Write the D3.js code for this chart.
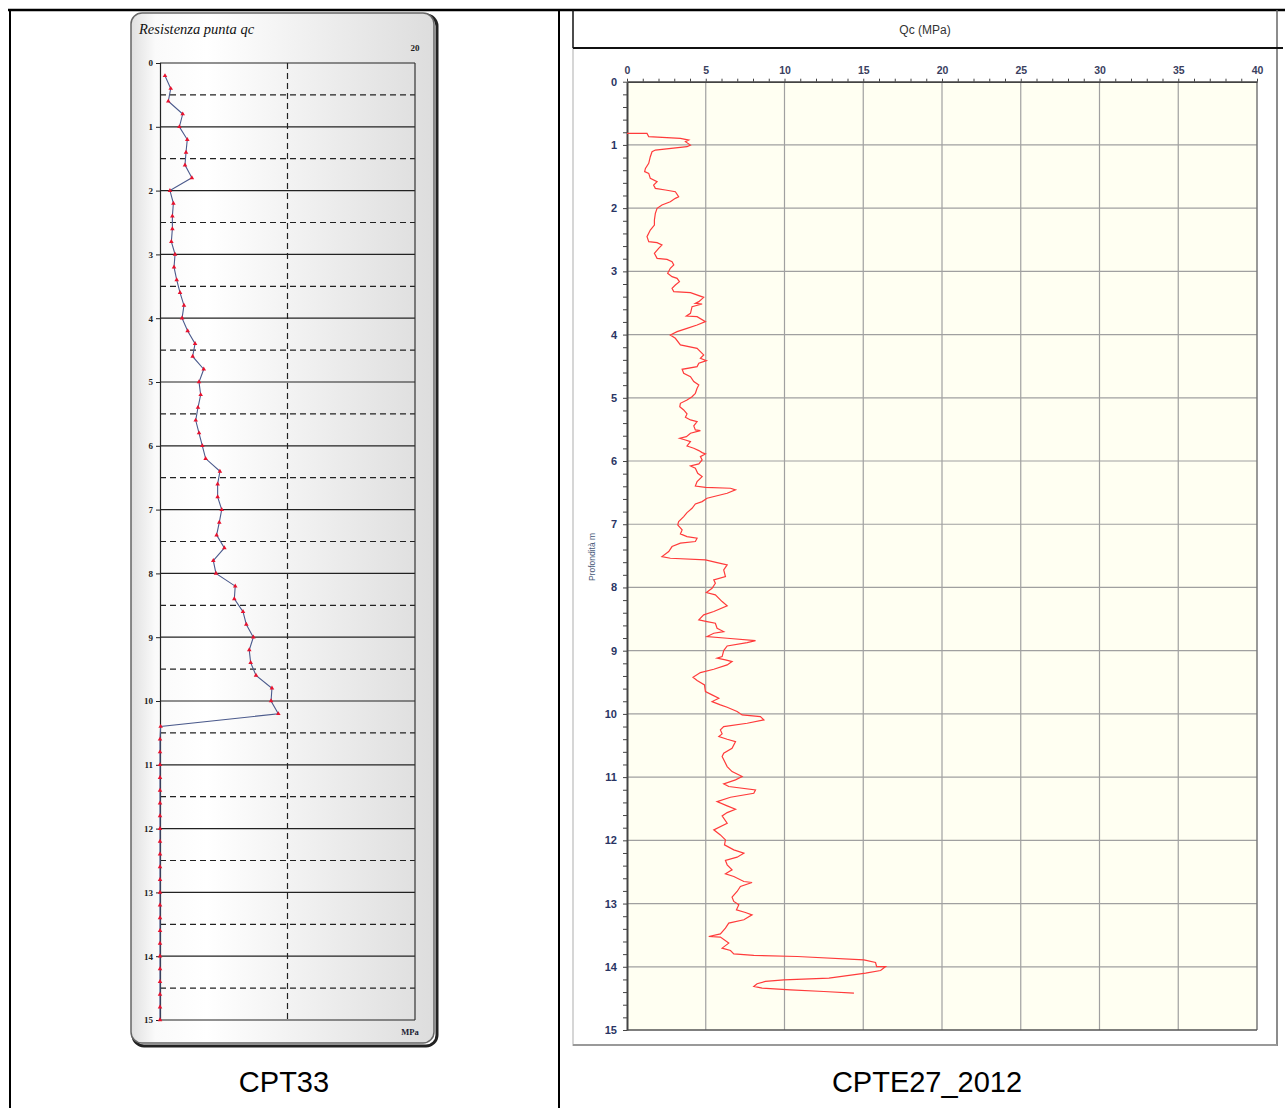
<!DOCTYPE html>
<html><head><meta charset="utf-8">
<script src="https://cdn.jsdelivr.net/npm/d3@7/dist/d3.min.js"></script>
<style>body{margin:0;background:#fff}svg{display:block}</style>
</head><body>
<svg id="c" width="1285" height="1108"></svg>
<script>
// ---------------- DATA ----------------
const cpt33Title = "Resistenza punta  qc";
const cpt33Caption = "CPT33";
const cpt33DepthTicks = [0,1,2,3,4,5,6,7,8,9,10,11,12,13,14,15];
const cpt33Depth = [0.2,0.4,0.6,0.8,1.0,1.2,1.4,1.6,1.8,2.0,2.2,2.4,2.6,2.8,3.0,3.2,3.4,3.6,3.8,4.0,
  4.2,4.4,4.6,4.8,5.0,5.2,5.4,5.6,5.8,6.0,6.2,6.4,6.6,6.8,7.0,7.2,7.4,7.6,7.8,8.0,
  8.2,8.4,8.6,8.8,9.0,9.2,9.4,9.6,9.8,10.0,10.2,10.4,10.6,10.8,11.0,11.2,11.4,11.6,11.8,12.0,
  12.2,12.4,12.6,12.8,13.0,13.2,13.4,13.6,13.8,14.0,14.2,14.4,14.6,14.8,15.0];
const cpt33Qc = [0.39,0.84,0.65,1.78,1.52,2.14,2.04,1.96,2.5,0.78,1.05,0.97,0.97,0.89,1.18,1.10,1.31,1.57,1.88,1.73,
  2.17,2.75,2.56,3.43,3.06,3.19,2.98,2.8,3.06,3.32,3.58,4.7,4.52,4.52,4.84,4.65,4.44,5.05,4.18,4.39,
  5.9,5.83,6.51,6.77,7.32,7.0,7.11,7.53,8.78,8.71,9.28,0.05,0,0,0,0,0,0,0,0,
  0,0,0,0,0,0,0,0,0,0,0,0,0,0,0];

const cpteTitle = "Qc (MPa)";
const cpteCaption = "CPTE27_2012";
const cpteYLabel = "Profondità m";
const cpteQcTicks = [0,5,10,15,20,25,30,35,40];
const cpteDepthTicks = [0,1,2,3,4,5,6,7,8,9,10,11,12,13,14,15];
const cpteDepth = [0.817,0.817,0.870,0.896,0.923,0.949,1.002,1.028,1.081,1.107,1.186,1.292,1.371,1.423,1.450,1.529,1.581,1.634,1.687,1.713,
  1.740,1.819,1.845,1.898,1.950,2.003,2.082,2.188,2.267,2.346,2.451,2.530,2.546,2.583,2.636,2.715,2.794,2.810,2.847,2.899,
  2.952,3.031,3.084,3.110,3.163,3.216,3.268,3.321,3.337,3.411,3.479,3.506,3.516,3.558,3.664,3.706,3.716,3.795,3.848,3.901,
  3.954,4.006,4.059,4.164,4.217,4.322,4.375,4.412,4.454,4.507,4.549,4.612,4.665,4.744,4.797,4.850,4.929,4.982,5.034,5.087,
  5.140,5.192,5.255,5.308,5.350,5.377,5.445,5.508,5.519,5.561,5.614,5.640,5.667,5.693,5.762,5.798,5.835,5.867,5.888,5.930,
  5.983,6.046,6.078,6.115,6.194,6.247,6.326,6.395,6.416,6.431,6.457,6.510,6.589,6.642,6.679,6.748,6.816,6.879,6.958,7.011,
  7.090,7.153,7.195,7.222,7.274,7.300,7.353,7.432,7.512,7.538,7.564,7.606,7.643,7.722,7.828,7.880,7.933,8.012,8.080,8.117,
  8.223,8.291,8.381,8.434,8.513,8.540,8.566,8.645,8.698,8.724,8.777,8.803,8.840,8.872,8.925,8.999,9.093,9.119,9.146,9.172,
  9.225,9.294,9.346,9.420,9.472,9.541,9.646,9.699,9.752,9.805,9.857,9.894,9.963,10.016,10.042,10.095,10.148,10.200,10.253,10.316,
  10.358,10.401,10.438,10.543,10.622,10.675,10.833,10.912,10.991,11.044,11.107,11.149,11.202,11.255,11.318,11.388,11.455,11.508,11.561,11.614,
  11.730,11.834,11.914,11.993,12.072,12.151,12.203,12.266,12.319,12.387,12.466,12.530,12.572,12.651,12.667,12.730,12.809,12.899,12.967,13.020,
  13.099,13.142,13.178,13.257,13.310,13.389,13.479,13.521,13.531,13.626,13.705,13.742,13.795,13.821,13.837,13.890,13.932,13.996,13.996,14.059,
  14.101,14.180,14.206,14.232,14.269,14.311,14.338,14.364,14.391,14.417];
const cpteQc = [0,1.27,1.38,3.39,3.92,3.71,4.03,3.81,1.80,1.59,1.48,1.38,1.17,1.12,1.38,1.48,1.91,1.69,1.80,2.44,
  3.07,3.28,3.07,2.75,2.22,1.91,1.80,1.74,1.74,1.48,1.27,1.38,1.91,2.22,2.01,1.74,1.91,2.54,2.86,2.97,
  2.75,2.58,2.86,3.18,3.33,3.07,2.86,2.97,4.03,4.87,4.56,4.34,4.77,4.13,4.03,3.77,4.45,4.98,4.45,3.81,
  3.18,2.75,3.07,3.39,4.45,4.87,4.66,5.04,4.56,4.45,3.50,3.60,4.03,4.24,4.56,4.45,4.34,4.13,3.81,3.39,
  3.35,3.60,3.81,3.71,4.03,4.45,4.24,4.34,4.66,4.03,3.77,3.35,3.71,4.03,3.81,4.24,4.56,4.77,4.98,4.66,
  4.77,4.56,4.03,4.34,4.49,4.77,4.45,4.34,4.98,6.57,6.89,6.36,5.08,4.77,4.34,4.13,3.81,3.60,3.28,3.22,
  3.50,3.39,3.81,4.45,4.34,3.39,2.86,2.65,2.22,2.75,4.98,5.72,6.36,6.14,6.25,5.51,5.61,5.40,5.04,5.61,
  6.04,6.36,5.51,4.87,4.56,5.08,5.61,5.72,6.14,5.51,5.08,6.36,8.16,7.63,6.36,6.14,6.04,5.72,6.25,6.67,
  6.36,5.51,4.66,4.19,4.45,4.92,4.98,5.40,5.83,5.40,5.93,6.36,6.99,7.31,8.47,8.69,7.63,6.14,5.93,6.04,
  5.83,6.36,6.89,6.67,6.14,6.04,6.36,6.67,7.31,6.89,6.14,6.46,8.16,8.05,6.57,5.72,6.36,6.89,6.36,6.04,
  6.36,5.51,5.93,6.25,6.19,6.78,7.42,6.99,6.25,6.36,6.67,6.25,6.78,7.42,7.94,7.20,6.99,6.67,6.78,7.10,
  6.95,7.52,7.94,7.42,6.46,6.25,5.93,5.19,5.93,6.46,6.04,6.57,6.78,8.05,10.81,15.04,15.78,15.85,16.42,16.10,
  15.15,12.82,9.96,8.79,8.26,8.05,8.58,10.38,12.50,14.41];

// ---------------- DRAW ----------------
const svg = d3.select("#c");
const defs = svg.append("defs");
const grad = defs.append("linearGradient").attr("id","pg").attr("x1","0%").attr("x2","100%").attr("y1","0%").attr("y2","0%");
grad.append("stop").attr("offset","0%").attr("stop-color","#e0e0e0");
grad.append("stop").attr("offset","8%").attr("stop-color","#fafafa");
grad.append("stop").attr("offset","25%").attr("stop-color","#ffffff");
grad.append("stop").attr("offset","100%").attr("stop-color","#dddddd");

// table frame
const frame = svg.append("g");
frame.append("line").attr("x1",8).attr("x2",1285).attr("y1",10).attr("y2",10).attr("stroke","#000").attr("stroke-width",2.5);
frame.append("line").attr("x1",10).attr("x2",10).attr("y1",9).attr("y2",1108).attr("stroke","#000").attr("stroke-width",2);
frame.append("line").attr("x1",559).attr("x2",559).attr("y1",9).attr("y2",1108).attr("stroke","#000").attr("stroke-width",2);

// ---------- LEFT: CPT33 ----------
const L = svg.append("g");
L.append("rect").attr("x",133).attr("y",15).attr("width",304).attr("height",1031).attr("rx",11)
  .attr("fill","none").attr("stroke","#222").attr("stroke-width",3);
L.append("rect").attr("x",131).attr("y",13).attr("width",303).attr("height",1030).attr("rx",11)
  .attr("fill","url(#pg)").attr("stroke","#666").attr("stroke-width",1.5);

const xL = d3.scaleLinear().domain([0,20]).range([160,415]);
const yL = d3.scaleLinear().domain([0,15]).range([63,1020]);

L.append("text").attr("x",139).attr("y",34).text(cpt33Title)
  .attr("font-family","'Liberation Serif','DejaVu Serif',serif").attr("font-style","italic")
  .attr("font-size",14.5).attr("fill","#111");

const halfTicks = cpt33DepthTicks.slice(0,-1).map(d=>d+0.5);
L.append("g").selectAll("line.s").data(cpt33DepthTicks.slice(1)).join("line")
  .attr("x1",xL(0)).attr("x2",xL(20)).attr("y1",d=>yL(d)).attr("y2",d=>yL(d))
  .attr("stroke","#222").attr("stroke-width",1.2);
L.append("g").selectAll("line.d").data(halfTicks).join("line")
  .attr("x1",xL(0)).attr("x2",xL(20)).attr("y1",d=>yL(d)).attr("y2",d=>yL(d))
  .attr("stroke","#222").attr("stroke-width",1.2).attr("stroke-dasharray","6,4");
L.append("line").attr("x1",xL(10)).attr("x2",xL(10)).attr("y1",yL(0)).attr("y2",yL(15))
  .attr("stroke","#222").attr("stroke-width",1.2).attr("stroke-dasharray","6,4");
L.append("line").attr("x1",xL(0)).attr("x2",xL(20)).attr("y1",yL(0)).attr("y2",yL(0)).attr("stroke","#222").attr("stroke-width",1.2);
L.append("line").attr("x1",xL(20)).attr("x2",xL(20)).attr("y1",yL(0)).attr("y2",yL(15)).attr("stroke","#333").attr("stroke-width",1.2);

const axL = L.append("g").attr("transform",`translate(${xL(0)},0)`)
  .call(d3.axisLeft(yL).tickValues(cpt33DepthTicks).tickSize(4).tickPadding(3).tickFormat(d3.format("d")));
axL.select(".domain").attr("stroke","#222").attr("stroke-width",1.2);
axL.selectAll(".tick line").attr("stroke","#222");
axL.selectAll("text").attr("font-family","'Liberation Serif','DejaVu Serif',serif").attr("font-weight","bold")
  .attr("font-size",9).attr("fill","#222");

L.append("text").attr("x",xL(20)).attr("y",51).attr("text-anchor","middle").text("20")
  .attr("font-family","'Liberation Serif',serif").attr("font-weight","bold").attr("font-size",9).attr("fill","#222");
L.append("text").attr("x",xL(20)-5).attr("y",1035).attr("text-anchor","middle").text("MPa")
  .attr("font-family","'Liberation Serif',serif").attr("font-weight","bold").attr("font-size",8.5).attr("fill","#223");

const ptsL = cpt33Depth.map((d,i)=>[cpt33Qc[i],d]);
L.append("path").datum(ptsL)
  .attr("d",d3.line().x(p=>xL(p[0])).y(p=>yL(p[1])))
  .attr("fill","none").attr("stroke","#4b5a8c").attr("stroke-width",1.1);
L.append("g").selectAll("path").data(ptsL).join("path")
  .attr("d",d3.symbol().type(d3.symbolTriangle).size(9))
  .attr("transform",p=>`translate(${xL(p[0])},${yL(p[1])})`)
  .attr("fill","#e8112d");

svg.append("text").attr("x",284).attr("y",1092).attr("text-anchor","middle").text(cpt33Caption)
  .attr("font-family","'Liberation Sans',Arial,sans-serif").attr("font-size",29).attr("fill","#000");

// ---------- RIGHT: CPTE27 ----------
const R = svg.append("g");
const xR = d3.scaleLinear().domain([0,40]).range([627,1257]);
const yR = d3.scaleLinear().domain([0,15]).range([81.7,1030]);

R.append("line").attr("x1",573).attr("x2",573).attr("y1",10).attr("y2",48).attr("stroke","#111").attr("stroke-width",1.5);
R.append("line").attr("x1",573).attr("x2",573).attr("y1",48).attr("y2",1046).attr("stroke","#bbb").attr("stroke-width",1.2);
R.append("line").attr("x1",1277).attr("x2",1277).attr("y1",10).attr("y2",1046).attr("stroke","#666").attr("stroke-width",1.5);
R.append("line").attr("x1",573).attr("x2",1283).attr("y1",48).attr("y2",48).attr("stroke","#111").attr("stroke-width",2);
R.append("line").attr("x1",573).attr("x2",1277).attr("y1",1045).attr("y2",1045).attr("stroke","#999").attr("stroke-width",2);
R.append("text").attr("x",925).attr("y",34).attr("text-anchor","middle").text(cpteTitle)
  .attr("font-family","'Liberation Sans',Arial,sans-serif").attr("font-size",12).attr("fill","#333");

R.append("rect").attr("x",xR(0)).attr("y",yR(0)).attr("width",xR(40)-xR(0)).attr("height",yR(15)-yR(0))
  .attr("fill","#fffff2");
R.append("g").selectAll("line").data(cpteQcTicks.slice(1,-1)).join("line")
  .attr("x1",d=>xR(d)).attr("x2",d=>xR(d)).attr("y1",yR(0)).attr("y2",yR(15))
  .attr("stroke","#a0a0a0").attr("stroke-width",1.2);
R.append("g").selectAll("line").data(cpteDepthTicks.slice(1,-1)).join("line")
  .attr("x1",xR(0)).attr("x2",xR(40)).attr("y1",d=>yR(d)).attr("y2",d=>yR(d))
  .attr("stroke","#a0a0a0").attr("stroke-width",1.2);
R.append("line").attr("x1",xR(40)).attr("x2",xR(40)).attr("y1",yR(0)).attr("y2",yR(15)).attr("stroke","#777").attr("stroke-width",1.5);
R.append("line").attr("x1",xR(0)).attr("x2",xR(40)).attr("y1",yR(15)).attr("y2",yR(15)).attr("stroke","#555").attr("stroke-width",1.5);

const axTopMinor = R.append("g").attr("transform",`translate(0,${yR(0)})`)
  .call(d3.axisTop(xR).ticks(40).tickSize(3).tickFormat(""));
axTopMinor.select(".domain").remove();
axTopMinor.selectAll(".tick line").attr("stroke","#444");
const axTop = R.append("g").attr("transform",`translate(0,${yR(0)})`)
  .call(d3.axisTop(xR).tickValues(cpteQcTicks).tickSize(0).tickPadding(8));
axTop.select(".domain").attr("stroke","#444").attr("stroke-width",1.8);
axTop.selectAll("text").attr("font-family","'Liberation Sans',Arial,sans-serif").attr("font-size",10.5)
  .attr("font-weight","bold").attr("fill","#3a4060");

const axLeftMinor = R.append("g").attr("transform",`translate(${xR(0)},0)`)
  .call(d3.axisLeft(yR).ticks(75).tickSize(4).tickFormat(""));
axLeftMinor.select(".domain").remove();
axLeftMinor.selectAll(".tick line").attr("stroke","#444");
const axLeft = R.append("g").attr("transform",`translate(${xR(0)},0)`)
  .call(d3.axisLeft(yR).tickValues(cpteDepthTicks).tickSize(0).tickPadding(10));
axLeft.select(".domain").attr("stroke","#444").attr("stroke-width",2);
axLeft.selectAll("text").attr("font-family","'Liberation Sans',Arial,sans-serif").attr("font-size",11)
  .attr("font-weight","bold").attr("fill","#2a3564");

R.append("text").attr("transform","translate(595,557) rotate(-90)").attr("text-anchor","middle").text(cpteYLabel)
  .attr("font-family","'Liberation Sans',Arial,sans-serif").attr("font-size",8.5).attr("fill","#4a5a7a");

const ptsR = cpteDepth.map((d,i)=>[cpteQc[i],d]);
R.append("path").datum(ptsR)
  .attr("d",d3.line().x(p=>xR(p[0])).y(p=>yR(p[1])))
  .attr("fill","none").attr("stroke","#ff3b3b").attr("stroke-width",1.2);

svg.append("text").attr("x",927).attr("y",1092).attr("text-anchor","middle").text(cpteCaption)
  .attr("font-family","'Liberation Sans',Arial,sans-serif").attr("font-size",29).attr("fill","#000");
</script>
</body></html>
